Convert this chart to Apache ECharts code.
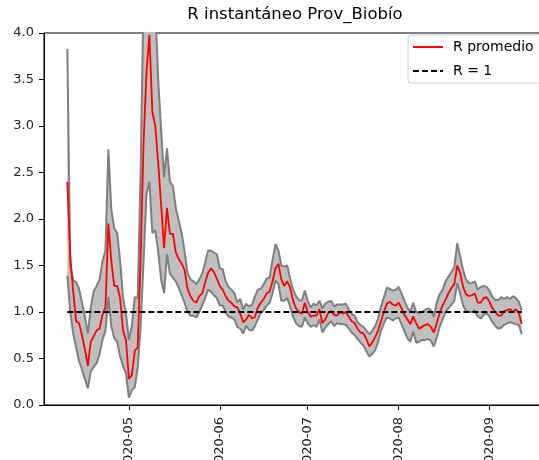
<!DOCTYPE html>
<html><head><meta charset="utf-8">
<script src="https://cdn.jsdelivr.net/npm/echarts@6/dist/echarts.min.js"></script>
<style>html,body{margin:0;padding:0;background:#fff}#c{width:539px;height:460px}</style>
</head><body><div id="c"></div>
<script>
const titleText = 'R instantáneo Prov_Biobío';
const startDate = [2020, 4, 10]; // first day of data (year, month, day)
const meanName = 'R promedio';
const refName = 'R = 1';
const refLevel = 1;

const rMean = [
  2.40, 1.60, 1.22, 0.90, 0.88, 0.75, 0.60, 0.42, 0.68, 0.74,
  0.80, 0.82, 0.97, 1.05, 1.95, 1.55, 1.28, 1.28, 1.15, 0.80,
  0.70, 0.28, 0.32, 0.58, 0.62, 1.58, 2.81, 3.58, 3.98, 3.15,
  3.00, 2.60, 2.15, 1.69, 2.12, 1.84, 1.84, 1.64, 1.57, 1.52,
  1.45, 1.25, 1.17, 1.12, 1.10, 1.17, 1.20, 1.32, 1.42, 1.47,
  1.43, 1.36, 1.28, 1.24, 1.17, 1.12, 1.10, 1.06, 1.05, 0.98,
  0.89, 0.92, 0.97, 0.93, 0.95, 1.05, 1.10, 1.14, 1.20, 1.22,
  1.33, 1.47, 1.52, 1.35, 1.28, 1.33, 1.26, 1.12, 1.04, 1.00,
  0.98, 1.10, 1.00, 0.95, 0.96, 0.96, 1.03, 0.88, 0.92, 0.99,
  1.01, 0.97, 0.96, 1.00, 0.98, 1.00, 0.95, 0.90, 0.88, 0.82,
  0.78, 0.77, 0.71, 0.63, 0.67, 0.73, 0.80, 0.90, 1.00, 1.09,
  1.11, 1.08, 1.07, 1.10, 1.04, 0.97, 0.92, 0.87, 0.95, 0.88,
  0.82, 0.84, 0.86, 0.87, 0.84, 0.78, 0.88, 0.99, 1.07, 1.13,
  1.20, 1.26, 1.30, 1.50, 1.42, 1.27, 1.19, 1.17, 1.18, 1.20,
  1.10, 1.10, 1.15, 1.16, 1.11, 1.04, 1.00, 0.96, 0.96, 1.01,
  1.02, 1.03, 1.00, 1.03, 0.99, 0.87
];
const rUpper = [
  3.83, 1.50, 1.34, 1.32, 1.25, 1.10, 0.95, 0.77, 1.05, 1.22,
  1.28, 1.35, 1.55, 1.66, 2.75, 2.10, 1.90, 1.85, 1.55, 1.16,
  0.98, 0.70, 0.85, 1.16, 1.15, 2.50, 4.40, 5.00, 5.40, 4.80,
  4.30, 3.50, 2.95, 2.45, 2.76, 2.40, 2.36, 2.12, 1.98, 1.85,
  1.65, 1.42, 1.35, 1.33, 1.30, 1.35, 1.41, 1.53, 1.66, 1.66,
  1.64, 1.62, 1.47, 1.46, 1.33, 1.27, 1.24, 1.20, 1.10, 1.14,
  1.03, 1.09, 1.06, 1.08, 1.17, 1.24, 1.25, 1.30, 1.36, 1.37,
  1.56, 1.73, 1.66, 1.50, 1.49, 1.50, 1.36, 1.24, 1.17, 1.13,
  1.12, 1.23, 1.12, 1.05, 1.09, 1.07, 1.12, 1.04, 1.09, 1.11,
  1.12, 1.06, 1.08, 1.08, 1.08, 1.09, 1.03, 0.98, 0.96, 0.89,
  0.86, 0.84, 0.80, 0.76, 0.80, 0.85, 0.93, 1.06, 1.16, 1.26,
  1.25, 1.23, 1.24, 1.27, 1.20, 1.12, 1.05, 1.00, 1.10, 1.00,
  0.99, 1.00, 1.02, 1.04, 1.02, 0.95, 1.10, 1.19, 1.24, 1.33,
  1.38, 1.43, 1.48, 1.74, 1.60, 1.45, 1.35, 1.31, 1.31, 1.33,
  1.24, 1.27, 1.28, 1.27, 1.23, 1.16, 1.13, 1.13, 1.16, 1.14,
  1.16, 1.14, 1.17, 1.15, 1.11, 1.02
];
const rLower = [
  1.39, 1.00, 0.77, 0.62, 0.47, 0.38, 0.28, 0.18, 0.36, 0.41,
  0.45, 0.55, 0.70, 0.80, 1.16, 0.85, 0.72, 0.68, 0.52, 0.42,
  0.34, 0.08, 0.16, 0.19, 0.40, 0.84, 1.55, 2.27, 2.40, 1.85,
  1.88, 1.65, 1.35, 1.20, 1.62, 1.41, 1.37, 1.33, 1.26, 1.18,
  1.10, 1.00, 0.96, 0.96, 0.94, 1.00, 1.07, 1.15, 1.24, 1.22,
  1.18, 1.15, 1.07, 1.07, 1.00, 0.95, 0.94, 0.92, 0.84, 0.82,
  0.77, 0.85, 0.81, 0.80, 0.85, 0.92, 0.99, 1.02, 1.07, 1.10,
  1.20, 1.34, 1.30, 1.12, 1.12, 1.15, 1.06, 0.95, 0.88, 0.85,
  0.84, 0.94, 0.88, 0.84, 0.86, 0.84, 0.92, 0.78, 0.83, 0.87,
  0.90, 0.85, 0.88, 0.87, 0.87, 0.86, 0.82, 0.78, 0.75, 0.71,
  0.67, 0.64, 0.58, 0.52, 0.55, 0.59, 0.68, 0.80, 0.88, 0.94,
  0.93, 0.91, 0.93, 0.94, 0.87, 0.79, 0.72, 0.68, 0.79, 0.67,
  0.68, 0.70, 0.70, 0.71, 0.69, 0.63, 0.72, 0.84, 0.92, 1.00,
  1.04, 1.08, 1.12, 1.31, 1.20, 1.07, 1.01, 1.00, 1.00, 1.02,
  0.95, 0.93, 0.97, 0.99, 0.95, 0.89, 0.85, 0.82, 0.83, 0.86,
  0.88, 0.89, 0.88, 0.87, 0.86, 0.76
];

const dates = rMean.map((_, i) => new Date(startDate[0], startDate[1] - 1, startDate[2] + i).getTime());
const xMin = new Date(2020, 3, 2, 1).getTime();
const xMax = new Date(2020, 8, 20, 23).getTime();

const font = 'DejaVu Sans';
const chart = echarts.init(document.getElementById('c'), null, {renderer: 'canvas'});
chart.setOption({
  animation: false,
  backgroundColor: '#fff',
  title: {
    text: titleText, left: 295, top: 6, textAlign: 'center', padding: 0,
    textStyle: {fontFamily: font, fontSize: 16.5, fontWeight: 'normal', color: '#000'}
  },
  legend: {
    data: [meanName, refName],
    orient: 'vertical', left: 408, top: 35,
    itemWidth: 30, itemHeight: 14, itemGap: 10,
    padding: [5, 8, 5, 4],
    backgroundColor: '#fff', borderColor: '#d0d0d0', borderWidth: 1, borderRadius: 3,
    itemStyle: {opacity: 0},
    textStyle: {fontFamily: font, fontSize: 14, color: '#000', padding: [0, 0, 0, 5]}
  },
  grid: {
    left: 44, top: 33, width: 504, height: 372,
    show: true, borderColor: '#000', borderWidth: 1, backgroundColor: 'transparent',
    containLabel: false, outerBoundsMode: 'none'
  },
  xAxis: {
    type: 'time', min: xMin, max: xMax, splitNumber: 6,
    axisLine: {show: true, lineStyle: {color: '#000', width: 1}},
    axisTick: {show: true, length: 5, lineStyle: {color: '#000'}},
    splitLine: {show: false},
    axisLabel: {
      rotate: 90, formatter: '{yyyy}-{MM}', fontFamily: font, fontSize: 13, color: '#222',
      margin: 12, showMinLabel: false, showMaxLabel: false, hideOverlap: false
    }
  },
  yAxis: {
    type: 'value', min: 0, max: 4, interval: 0.5,
    axisLine: {show: true, lineStyle: {color: '#000', width: 1}},
    axisTick: {show: true, length: 5, lineStyle: {color: '#000'}},
    splitLine: {show: false},
    axisLabel: {formatter: v => v.toFixed(1), fontFamily: font, fontSize: 13, color: '#222', margin: 10}
  },
  series: [
    {
      name: 'lower', type: 'line', stack: 'ci', symbol: 'none', silent: true, z: 3,
      lineStyle: {color: '#7f7f7f', width: 2},
      data: dates.map((d, i) => [d, rLower[i]])
    },
    {
      name: 'band', type: 'line', stack: 'ci', symbol: 'none', silent: true, z: 2,
      lineStyle: {color: '#7f7f7f', width: 2},
      areaStyle: {color: '#bfbfbf', opacity: 1},
      data: dates.map((d, i) => [d, rUpper[i] - rLower[i]])
    },
    {
      name: meanName, type: 'line', symbol: 'none', z: 4,
      lineStyle: {color: '#ff0000', width: 1.8},
      itemStyle: {color: '#ff0000'},
      data: dates.map((d, i) => [d, rMean[i]])
    },
    {
      name: refName, type: 'line', symbol: 'none', z: 5,
      lineStyle: {color: '#000', width: 1.8, type: [6, 3]},
      itemStyle: {color: '#000'},
      data: [[dates[0], refLevel], [dates[dates.length - 1], refLevel]]
    }
  ]
});
</script>
</body></html>
